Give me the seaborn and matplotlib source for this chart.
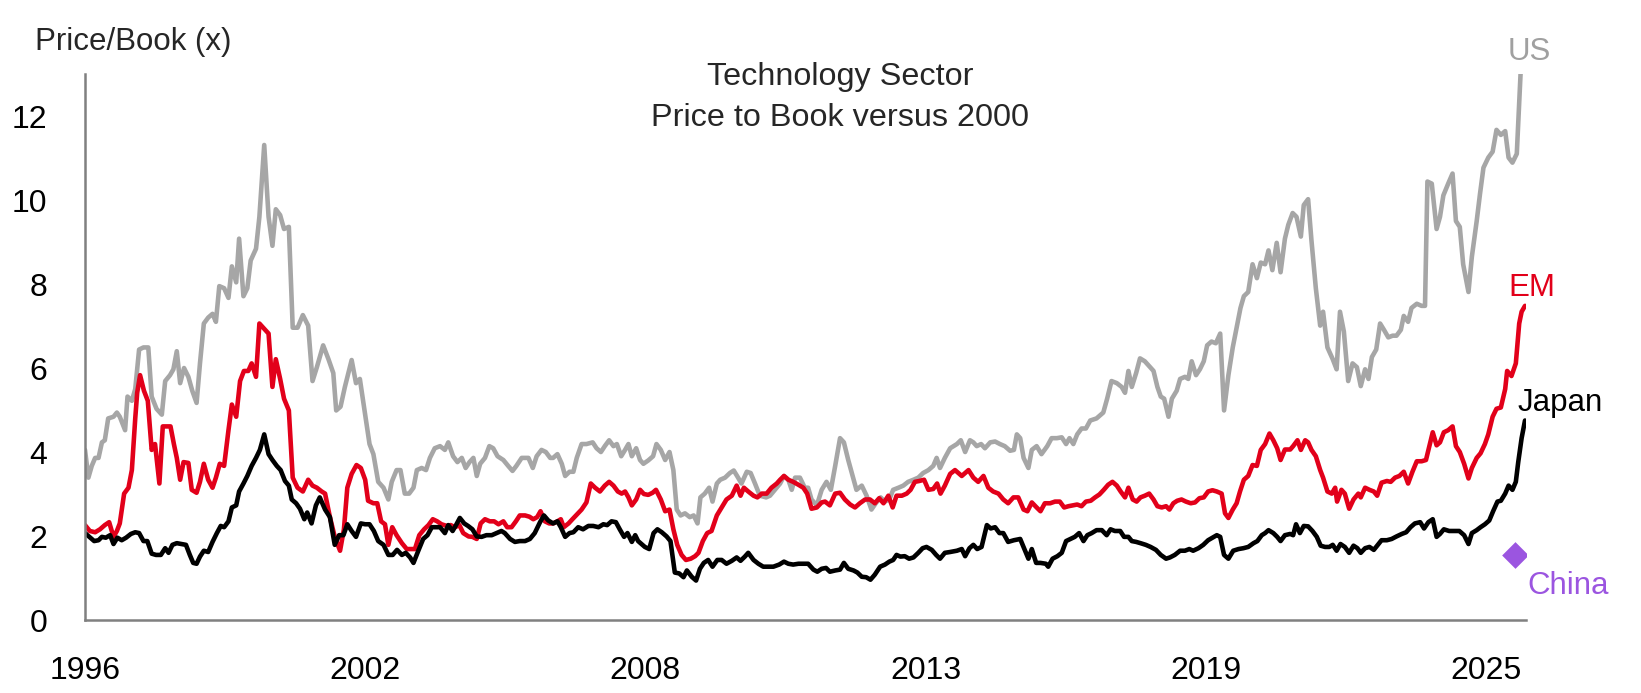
import matplotlib
matplotlib.use("Agg")
import matplotlib.pyplot as plt
import pandas as pd
import seaborn as sns

# (year, price/book)
us_pb = [
    (1996.00, 4.05), (1996.07, 3.39), (1996.14, 3.67), (1996.21, 3.86), (1996.28, 3.86), (1996.35, 4.23),
    (1996.41, 4.28), (1996.48, 4.80), (1996.59, 4.84), (1996.66, 4.94), (1996.72, 4.84), (1996.83, 4.52),
    (1996.88, 5.32), (1996.97, 5.22), (1997.04, 5.50), (1997.12, 6.44), (1997.21, 6.49), (1997.31, 6.49),
    (1997.38, 5.32), (1997.48, 5.03), (1997.59, 4.89), (1997.66, 5.69), (1997.76, 5.83), (1997.83, 5.97),
    (1997.90, 6.40), (1997.97, 5.64), (1998.05, 6.00), (1998.14, 5.79), (1998.22, 5.46), (1998.31, 5.17),
    (1998.38, 6.11), (1998.46, 7.06), (1998.55, 7.20), (1998.64, 7.29), (1998.71, 7.10), (1998.78, 7.95),
    (1998.88, 7.90), (1998.97, 7.67), (1999.04, 8.42), (1999.13, 8.04), (1999.19, 9.08), (1999.28, 7.71),
    (1999.36, 7.90), (1999.43, 8.56), (1999.54, 8.84), (1999.61, 9.60), (1999.71, 11.31), (1999.80, 9.60),
    (1999.88, 8.91), (1999.95, 9.78), (2000.04, 9.64), (2000.12, 9.31), (2000.22, 9.36), (2000.30, 6.96),
    (2000.40, 6.96), (2000.51, 7.26), (2000.62, 7.01), (2000.71, 5.69), (2000.80, 6.02),
    (2000.93, 6.54), (2001.04, 6.21), (2001.14, 5.88), (2001.20, 4.99), (2001.29, 5.08), (2001.38, 5.55),
    (2001.52, 6.19), (2001.61, 5.64), (2001.69, 5.74), (2001.80, 4.89), (2001.89, 4.19), (2001.97, 3.95),
    (2002.07, 3.29), (2002.18, 3.15), (2002.28, 2.87), (2002.35, 3.29), (2002.45, 3.57), (2002.53, 3.57),
    (2002.62, 3.01), (2002.71, 3.01), (2002.80, 3.15), (2002.87, 3.57), (2002.97, 3.62), (2003.06, 3.57),
    (2003.14, 3.86), (2003.24, 4.09), (2003.35, 4.14), (2003.45, 4.05), (2003.52, 4.23), (2003.62, 3.90),
    (2003.71, 3.76), (2003.80, 3.86), (2003.88, 3.62), (2003.96, 3.76), (2004.04, 3.86), (2004.11, 3.43),
    (2004.18, 3.72), (2004.28, 3.86), (2004.37, 4.14), (2004.45, 4.09), (2004.54, 3.90), (2004.66, 3.81),
    (2004.76, 3.67), (2004.85, 3.55), (2004.93, 3.67), (2005.04, 3.86), (2005.18, 3.86), (2005.27, 3.62),
    (2005.35, 3.90), (2005.45, 4.05), (2005.54, 4.00), (2005.63, 3.86), (2005.69, 3.86), (2005.78, 3.95),
    (2005.87, 3.72), (2005.94, 3.43), (2006.03, 3.53), (2006.11, 3.53), (2006.18, 3.86), (2006.28, 4.19),
    (2006.38, 4.19), (2006.51, 4.23), (2006.59, 4.09), (2006.68, 4.00), (2006.76, 4.14), (2006.85, 4.28),
    (2006.94, 4.14), (2007.01, 4.19), (2007.10, 3.90), (2007.18, 4.05), (2007.25, 4.19), (2007.32, 3.90),
    (2007.41, 4.09), (2007.49, 3.81),
    (2007.56, 3.72), (2007.66, 3.80), (2007.76, 3.90), (2007.83, 4.19), (2007.92, 4.05), (2008.01, 3.81),
    (2008.10, 4.00), (2008.18, 3.57), (2008.25, 2.63), (2008.33, 2.49), (2008.42, 2.54), (2008.52, 2.45),
    (2008.60, 2.49), (2008.68, 2.30), (2008.74, 2.92), (2008.83, 3.01), (2008.92, 3.15), (2008.99, 2.82),
    (2009.08, 3.25), (2009.15, 3.34), (2009.25, 3.39), (2009.35, 3.50), (2009.43, 3.56), (2009.52, 3.39),
    (2009.59, 3.25), (2009.70, 3.53), (2009.78, 3.50), (2009.87, 3.25), (2009.97, 2.96), (2010.10, 2.92),
    (2010.18, 2.96), (2010.28, 3.10), (2010.39, 3.25), (2010.47, 3.43), (2010.56, 3.34), (2010.63, 3.10),
    (2010.70, 3.39), (2010.80, 3.39), (2010.90, 3.15), (2010.97, 3.15), (2011.04, 2.87), (2011.15, 2.73),
    (2011.25, 3.10), (2011.35, 3.29), (2011.44, 3.10), (2011.53, 3.67), (2011.63, 4.33), (2011.71, 4.23),
    (2011.80, 3.81), (2011.90, 3.39), (2011.97, 3.10), (2012.08, 3.20), (2012.18, 2.96), (2012.28, 2.63),
    (2012.37, 2.78), (2012.47, 2.92), (2012.56, 2.82), (2012.65, 2.87), (2012.73, 3.10), (2012.84, 3.15),
    (2012.94, 3.20), (2013.04, 3.29), (2013.15, 3.34), (2013.25, 3.39), (2013.35, 3.50), (2013.46, 3.57),
    (2013.56, 3.67), (2013.63, 3.86), (2013.70, 3.62), (2013.80, 3.86), (2013.91, 4.09),
    (2014.05, 4.19), (2014.13, 4.28), (2014.22, 4.00), (2014.32, 4.28), (2014.39, 4.23), (2014.46, 4.14),
    (2014.55, 4.19), (2014.63, 4.09), (2014.74, 4.23), (2014.84, 4.25), (2014.94, 4.19), (2015.04, 4.14),
    (2015.15, 4.03), (2015.23, 4.05), (2015.29, 4.42), (2015.36, 4.33), (2015.43, 3.86), (2015.53, 3.62),
    (2015.60, 4.05), (2015.70, 4.14), (2015.80, 3.95), (2015.92, 4.14), (2016.01, 4.33), (2016.12, 4.33),
    (2016.22, 4.35), (2016.31, 4.19), (2016.38, 4.33), (2016.46, 4.19), (2016.54, 4.42), (2016.63, 4.56),
    (2016.72, 4.56), (2016.81, 4.75), (2016.94, 4.80), (2017.08, 4.94), (2017.16, 5.27), (2017.25, 5.69),
    (2017.36, 5.64), (2017.46, 5.55), (2017.53, 5.41), (2017.60, 5.93), (2017.67, 5.55), (2017.76, 5.88),
    (2017.84, 6.23), (2017.94, 6.16), (2018.01, 6.07), (2018.12, 5.93), (2018.20, 5.55), (2018.27, 5.32),
    (2018.34, 5.27), (2018.43, 4.84), (2018.50, 5.27), (2018.60, 5.46), (2018.67, 5.74), (2018.77, 5.79),
    (2018.84, 5.74), (2018.91, 6.16), (2019.00, 5.83), (2019.08, 5.97), (2019.16, 6.16), (2019.23, 6.54),
    (2019.32, 6.63), (2019.41, 6.59), (2019.50, 6.82), (2019.58, 4.99), (2019.67, 5.83), (2019.76, 6.49),
    (2019.84, 6.96), (2019.92, 7.43), (2019.99, 7.71), (2020.08, 7.81), (2020.17, 8.47), (2020.26, 8.14),
    (2020.34, 8.51), (2020.43, 8.47),
    (2020.50, 8.80), (2020.58, 8.33), (2020.67, 8.98), (2020.75, 8.28), (2020.84, 9.08), (2020.91, 9.41),
    (2021.00, 9.69), (2021.08, 9.60), (2021.17, 9.13), (2021.23, 9.88), (2021.32, 10.02), (2021.39, 9.03),
    (2021.48, 7.90), (2021.57, 7.01), (2021.63, 7.34), (2021.72, 6.49), (2021.83, 6.21), (2021.91, 5.97),
    (2021.98, 7.34), (2022.06, 6.87), (2022.15, 5.69), (2022.24, 6.11), (2022.33, 6.02), (2022.41, 5.57),
    (2022.50, 5.97), (2022.57, 5.74), (2022.64, 6.26), (2022.73, 6.44), (2022.81, 7.06), (2022.89, 6.91),
    (2022.98, 6.73), (2023.07, 6.77), (2023.15, 6.77), (2023.24, 6.91), (2023.30, 7.24), (2023.39, 7.10),
    (2023.46, 7.43), (2023.57, 7.53), (2023.67, 7.48), (2023.74, 7.48), (2023.79, 10.44), (2023.88, 10.39),
    (2023.98, 9.31), (2024.05, 9.60), (2024.12, 10.11), (2024.22, 10.39), (2024.31, 10.63), (2024.38, 9.50),
    (2024.46, 9.36), (2024.53, 8.47), (2024.64, 7.81), (2024.71, 8.65), (2024.81, 9.50), (2024.88, 10.16),
    (2024.95, 10.77), (2025.05, 11.01), (2025.14, 11.15), (2025.22, 11.67), (2025.31, 11.55), (2025.40, 11.64),
    (2025.47, 11.01), (2025.55, 10.89), (2025.64, 11.10), (2025.72, 13.05),
]

em_pb = [
    (1996.00, 2.26), (1996.10, 2.12), (1996.21, 2.09), (1996.31, 2.16), (1996.41, 2.26), (1996.50, 2.33),
    (1996.59, 1.98), (1996.66, 2.12), (1996.72, 2.30), (1996.81, 3.01), (1996.90, 3.15), (1996.97, 3.57),
    (1997.04, 4.80), (1997.08, 5.41), (1997.14, 5.83), (1997.22, 5.46), (1997.30, 5.22), (1997.38, 4.05),
    (1997.45, 4.19), (1997.54, 3.25), (1997.61, 4.61), (1997.69, 4.61), (1997.77, 4.61), (1997.84, 4.19),
    (1997.90, 3.86), (1997.97, 3.34), (1998.04, 3.76), (1998.14, 3.74), (1998.21, 3.10), (1998.31, 3.03),
    (1998.38, 3.29), (1998.46, 3.72), (1998.55, 3.34), (1998.64, 3.15), (1998.71, 3.39), (1998.79, 3.72),
    (1998.88, 3.67), (1998.97, 4.52), (1999.04, 5.13), (1999.13, 4.84), (1999.21, 5.69), (1999.29, 5.93),
    (1999.38, 5.93), (1999.45, 6.11), (1999.54, 5.79), (1999.61, 7.06), (1999.69, 6.96), (1999.80, 6.82),
    (1999.88, 5.55), (1999.95, 6.21), (2000.04, 5.74), (2000.12, 5.27), (2000.22, 4.99), (2000.30, 3.39),
    (2000.40, 3.15), (2000.51, 3.06), (2000.62, 3.34), (2000.71, 3.20), (2000.80, 3.15), (2000.90, 3.06),
    (2000.97, 3.01), (2001.07, 2.45), (2001.17, 1.98), (2001.28, 1.65), (2001.36, 2.16), (2001.43, 3.15),
    (2001.52, 3.48), (2001.62, 3.69), (2001.71, 3.62), (2001.80, 3.34), (2001.86, 2.84), (2001.97, 2.78),
    (2002.05, 2.78), (2002.13, 2.35), (2002.21, 2.28), (2002.28, 1.79), (2002.36, 2.21), (2002.45, 2.02),
    (2002.56, 1.83), (2002.66, 1.69), (2002.76, 1.69), (2002.83, 1.69), (2002.92, 2.02), (2003.02, 2.16),
    (2003.11, 2.26), (2003.20, 2.40), (2003.29, 2.35), (2003.38, 2.28), (2003.49, 2.24), (2003.57, 2.26),
    (2003.66, 2.21), (2003.75, 2.26), (2003.83, 2.07), (2003.94, 1.99), (2004.02, 1.98), (2004.11, 1.93),
    (2004.19, 2.30), (2004.28, 2.40), (2004.38, 2.35), (2004.47, 2.35), (2004.56, 2.28), (2004.66, 2.35),
    (2004.74, 2.21), (2004.83, 2.21), (2004.92, 2.35), (2005.00, 2.49), (2005.11, 2.49), (2005.20, 2.46),
    (2005.28, 2.40), (2005.36, 2.45), (2005.43, 2.59), (2005.52, 2.35), (2005.61, 2.30), (2005.69, 2.30),
    (2005.78, 2.35), (2005.85, 2.40), (2005.91, 2.21), (2006.01, 2.30), (2006.09, 2.40), (2006.19, 2.52),
    (2006.28, 2.63), (2006.38, 2.80), (2006.47, 3.25), (2006.56, 3.15), (2006.66, 3.06), (2006.76, 3.20),
    (2006.85, 3.29), (2006.94, 3.20), (2007.03, 3.06), (2007.11, 3.01), (2007.18, 3.06), (2007.25, 2.92),
    (2007.32, 2.73), (2007.41, 2.87), (2007.49, 3.10),
    (2007.57, 3.00), (2007.66, 2.98), (2007.75, 3.03), (2007.82, 3.10), (2007.92, 2.87), (2008.01, 2.59),
    (2008.10, 2.63), (2008.18, 2.16), (2008.26, 1.79), (2008.35, 1.55), (2008.44, 1.43), (2008.54, 1.46),
    (2008.63, 1.52), (2008.70, 1.60), (2008.79, 1.88), (2008.88, 2.07), (2008.97, 2.12), (2009.08, 2.49),
    (2009.18, 2.68), (2009.28, 2.87), (2009.39, 2.96), (2009.49, 3.20), (2009.57, 2.96), (2009.64, 3.15),
    (2009.73, 3.06), (2009.84, 2.96), (2009.92, 2.92), (2010.01, 3.01), (2010.11, 3.01), (2010.21, 3.15),
    (2010.32, 3.25), (2010.39, 3.34), (2010.47, 3.43), (2010.56, 3.34), (2010.66, 3.29), (2010.77, 3.22),
    (2010.87, 3.15), (2010.95, 3.01), (2011.04, 2.65), (2011.15, 2.68), (2011.25, 2.80), (2011.32, 2.82),
    (2011.42, 2.73), (2011.53, 3.01), (2011.63, 3.03), (2011.73, 2.87), (2011.84, 2.75), (2011.94, 2.68),
    (2012.04, 2.78), (2012.15, 2.87), (2012.25, 2.87), (2012.35, 2.78), (2012.44, 2.90), (2012.53, 2.78),
    (2012.63, 2.96), (2012.72, 2.68), (2012.80, 2.96), (2012.91, 2.96), (2013.01, 3.01), (2013.09, 3.10),
    (2013.18, 3.29), (2013.27, 3.31), (2013.37, 3.34), (2013.46, 3.10), (2013.56, 3.12), (2013.64, 3.25),
    (2013.71, 3.01), (2013.80, 3.20), (2013.91, 3.48),
    (2014.01, 3.57), (2014.15, 3.43), (2014.29, 3.57), (2014.39, 3.39), (2014.49, 3.29), (2014.60, 3.43),
    (2014.70, 3.15), (2014.80, 3.06), (2014.91, 3.01), (2015.01, 2.87), (2015.11, 2.78), (2015.22, 2.92),
    (2015.32, 2.92), (2015.43, 2.63), (2015.51, 2.59), (2015.60, 2.80), (2015.70, 2.68), (2015.78, 2.59),
    (2015.87, 2.78), (2015.98, 2.78), (2016.08, 2.82), (2016.18, 2.82), (2016.27, 2.68), (2016.36, 2.71),
    (2016.45, 2.73), (2016.54, 2.75), (2016.63, 2.71), (2016.72, 2.82), (2016.82, 2.84), (2016.91, 2.92),
    (2017.00, 2.99), (2017.09, 3.10), (2017.18, 3.22), (2017.27, 3.29), (2017.36, 3.20), (2017.44, 3.06),
    (2017.53, 2.92), (2017.60, 3.15), (2017.69, 2.87), (2017.77, 2.82), (2017.85, 2.92), (2017.94, 2.96),
    (2018.03, 3.01), (2018.12, 2.87), (2018.20, 2.71), (2018.29, 2.68), (2018.38, 2.71), (2018.45, 2.63),
    (2018.53, 2.78), (2018.61, 2.84), (2018.70, 2.87), (2018.79, 2.82), (2018.89, 2.78), (2018.98, 2.80),
    (2019.07, 2.90), (2019.16, 2.92), (2019.25, 3.06), (2019.34, 3.09), (2019.43, 3.06), (2019.53, 3.01),
    (2019.60, 2.54), (2019.67, 2.43), (2019.76, 2.63), (2019.84, 2.78), (2019.91, 3.06), (2019.99, 3.34),
    (2020.08, 3.43), (2020.17, 3.69), (2020.26, 3.67), (2020.34, 4.05), (2020.43, 4.19),
    (2020.52, 4.44), (2020.60, 4.28), (2020.68, 4.09), (2020.75, 3.81), (2020.84, 4.06), (2020.95, 4.06),
    (2021.01, 4.14), (2021.10, 4.28), (2021.17, 4.05), (2021.26, 4.28), (2021.32, 4.23), (2021.39, 4.05),
    (2021.48, 3.90), (2021.57, 3.57), (2021.63, 3.39), (2021.72, 3.06), (2021.81, 3.01), (2021.88, 3.15),
    (2021.92, 2.82), (2022.01, 3.10), (2022.08, 3.01), (2022.17, 2.65), (2022.26, 2.87), (2022.36, 3.01),
    (2022.41, 2.92), (2022.50, 3.15), (2022.59, 3.10), (2022.68, 3.06), (2022.75, 2.96), (2022.84, 3.27),
    (2022.95, 3.31), (2023.03, 3.29), (2023.12, 3.39), (2023.21, 3.43), (2023.30, 3.53), (2023.39, 3.25),
    (2023.48, 3.53), (2023.57, 3.78), (2023.67, 3.78), (2023.76, 3.81), (2023.83, 4.14), (2023.90, 4.47),
    (2023.98, 4.16), (2024.05, 4.23), (2024.13, 4.47), (2024.22, 4.52), (2024.31, 4.61), (2024.38, 4.14),
    (2024.46, 4.00), (2024.55, 3.72), (2024.64, 3.37), (2024.71, 3.62), (2024.81, 3.86), (2024.89, 3.97),
    (2024.98, 4.19), (2025.05, 4.42), (2025.14, 4.84), (2025.22, 5.03), (2025.31, 5.06), (2025.40, 5.50),
    (2025.44, 5.93), (2025.53, 5.81), (2025.62, 6.11), (2025.69, 7.06), (2025.74, 7.34), (2025.81, 7.48),
]

japan_pb = [
    (1996.00, 2.07), (1996.09, 1.98), (1996.19, 1.88), (1996.28, 1.90), (1996.35, 1.98), (1996.43, 1.96),
    (1996.52, 2.02), (1996.59, 1.81), (1996.67, 1.96), (1996.76, 1.90), (1996.85, 1.96), (1996.95, 2.05),
    (1997.04, 2.09), (1997.12, 2.07), (1997.21, 1.88), (1997.29, 1.88), (1997.38, 1.58), (1997.47, 1.55),
    (1997.57, 1.55), (1997.66, 1.71), (1997.73, 1.60), (1997.81, 1.79), (1997.90, 1.83), (1998.00, 1.81),
    (1998.09, 1.79), (1998.17, 1.55), (1998.24, 1.36), (1998.31, 1.34), (1998.38, 1.51), (1998.46, 1.65),
    (1998.55, 1.62), (1998.64, 1.86), (1998.73, 2.07), (1998.81, 2.24), (1998.88, 2.21), (1998.97, 2.35),
    (1999.04, 2.68), (1999.13, 2.73), (1999.19, 3.06), (1999.28, 3.25), (1999.36, 3.43), (1999.45, 3.67),
    (1999.54, 3.86), (1999.62, 4.05), (1999.71, 4.42), (1999.80, 3.95), (1999.88, 3.81), (1999.97, 3.67),
    (2000.05, 3.57), (2000.14, 3.31), (2000.22, 3.20), (2000.28, 2.87), (2000.37, 2.78), (2000.45, 2.65),
    (2000.54, 2.40), (2000.60, 2.56), (2000.69, 2.30), (2000.78, 2.73), (2000.86, 2.92),
    (2000.97, 2.63), (2001.07, 2.45), (2001.17, 1.79), (2001.26, 2.02), (2001.35, 2.02), (2001.43, 2.28),
    (2001.52, 2.12), (2001.61, 1.98), (2001.71, 2.30), (2001.80, 2.28), (2001.89, 2.28), (2001.98, 2.12),
    (2002.07, 1.88), (2002.18, 1.79), (2002.28, 1.55), (2002.37, 1.55), (2002.46, 1.67), (2002.56, 1.55),
    (2002.64, 1.60), (2002.73, 1.49), (2002.80, 1.36), (2002.90, 1.65), (2003.00, 1.93), (2003.09, 2.02),
    (2003.18, 2.21), (2003.26, 2.21), (2003.35, 2.21), (2003.45, 2.07), (2003.52, 2.26), (2003.61, 2.12),
    (2003.69, 2.28), (2003.76, 2.43), (2003.85, 2.30), (2003.93, 2.24), (2004.02, 2.16), (2004.11, 1.99),
    (2004.21, 1.98), (2004.31, 2.02), (2004.42, 2.02), (2004.52, 2.07), (2004.62, 2.12), (2004.69, 2.07),
    (2004.80, 1.93), (2004.90, 1.86), (2005.00, 1.88), (2005.11, 1.88), (2005.21, 1.93), (2005.31, 2.07),
    (2005.42, 2.33), (2005.50, 2.49), (2005.59, 2.37), (2005.69, 2.30), (2005.78, 2.35), (2005.85, 2.21),
    (2005.94, 1.98), (2006.03, 2.07), (2006.11, 2.09), (2006.21, 2.21), (2006.31, 2.16), (2006.42, 2.24),
    (2006.52, 2.24), (2006.63, 2.21), (2006.73, 2.28), (2006.81, 2.26), (2006.90, 2.35), (2006.99, 2.33),
    (2007.07, 2.16), (2007.16, 1.98), (2007.23, 2.07), (2007.32, 1.86), (2007.39, 2.02), (2007.45, 1.88),
    (2007.50, 1.83), (2007.59, 1.74), (2007.68, 1.69), (2007.77, 2.07), (2007.85, 2.16), (2007.94, 2.09),
    (2008.04, 1.99), (2008.12, 1.88), (2008.21, 1.13), (2008.30, 1.11), (2008.39, 1.02), (2008.46, 1.18),
    (2008.56, 1.03), (2008.65, 0.94), (2008.73, 1.22), (2008.81, 1.36), (2008.90, 1.43), (2008.99, 1.27),
    (2009.09, 1.43), (2009.18, 1.43), (2009.28, 1.34), (2009.39, 1.41), (2009.49, 1.49), (2009.57, 1.41),
    (2009.66, 1.51), (2009.73, 1.60), (2009.84, 1.43), (2009.94, 1.34), (2010.04, 1.27), (2010.15, 1.27),
    (2010.25, 1.27), (2010.37, 1.32), (2010.47, 1.39), (2010.56, 1.34), (2010.66, 1.32), (2010.77, 1.34),
    (2010.87, 1.34), (2010.97, 1.34), (2011.08, 1.20), (2011.16, 1.15), (2011.25, 1.22), (2011.34, 1.24),
    (2011.42, 1.15), (2011.53, 1.18), (2011.63, 1.20), (2011.71, 1.36), (2011.80, 1.22), (2011.91, 1.18),
    (2011.99, 1.13), (2012.08, 1.03), (2012.17, 1.02), (2012.26, 0.96), (2012.35, 1.08), (2012.46, 1.27),
    (2012.56, 1.32), (2012.65, 1.39), (2012.73, 1.43), (2012.80, 1.55), (2012.88, 1.51), (2012.97, 1.52),
    (2013.06, 1.46), (2013.15, 1.49), (2013.25, 1.60), (2013.34, 1.71), (2013.42, 1.74), (2013.53, 1.67),
    (2013.62, 1.55), (2013.70, 1.46), (2013.80, 1.60), (2013.91, 1.62),
    (2014.05, 1.65), (2014.15, 1.69), (2014.22, 1.52), (2014.31, 1.71), (2014.39, 1.79), (2014.47, 1.69),
    (2014.56, 1.74), (2014.67, 2.26), (2014.75, 2.18), (2014.84, 2.21), (2014.93, 2.07), (2015.01, 2.07),
    (2015.11, 1.86), (2015.23, 1.90), (2015.36, 1.93), (2015.46, 1.65), (2015.53, 1.46), (2015.60, 1.69),
    (2015.69, 1.36), (2015.78, 1.36), (2015.89, 1.34), (2015.94, 1.27), (2016.03, 1.46), (2016.13, 1.52),
    (2016.22, 1.60), (2016.31, 1.88), (2016.40, 1.93), (2016.49, 1.98), (2016.58, 2.07), (2016.67, 1.88),
    (2016.75, 2.02), (2016.84, 2.07), (2016.94, 2.14), (2017.05, 2.14), (2017.15, 2.02), (2017.23, 2.16),
    (2017.32, 2.12), (2017.43, 2.12), (2017.51, 1.98), (2017.60, 1.98), (2017.67, 1.88), (2017.76, 1.86),
    (2017.85, 1.83), (2017.96, 1.79), (2018.06, 1.74), (2018.17, 1.67), (2018.27, 1.55), (2018.38, 1.46),
    (2018.46, 1.49), (2018.56, 1.55), (2018.67, 1.65), (2018.77, 1.65), (2018.86, 1.69), (2018.94, 1.65),
    (2019.05, 1.71), (2019.15, 1.79), (2019.25, 1.90), (2019.34, 1.96), (2019.43, 2.02), (2019.50, 1.98),
    (2019.58, 1.55), (2019.67, 1.46), (2019.77, 1.65), (2019.88, 1.69), (2019.98, 1.71), (2020.08, 1.74),
    (2020.19, 1.83), (2020.27, 1.88), (2020.36, 2.02), (2020.43, 2.07),
    (2020.50, 2.14), (2020.60, 2.07), (2020.68, 1.98), (2020.75, 1.88), (2020.84, 2.02), (2020.95, 2.05),
    (2021.01, 2.02), (2021.07, 2.28), (2021.15, 2.07), (2021.23, 2.24), (2021.32, 2.23), (2021.41, 2.12),
    (2021.50, 1.98), (2021.58, 1.77), (2021.67, 1.74), (2021.76, 1.74), (2021.83, 1.79), (2021.91, 1.65),
    (2021.99, 1.81), (2022.08, 1.74), (2022.17, 1.60), (2022.26, 1.77), (2022.34, 1.71), (2022.41, 1.60),
    (2022.50, 1.71), (2022.59, 1.74), (2022.68, 1.67), (2022.75, 1.77), (2022.84, 1.90), (2022.95, 1.90),
    (2023.05, 1.93), (2023.15, 1.99), (2023.26, 2.05), (2023.35, 2.09), (2023.44, 2.21), (2023.53, 2.30),
    (2023.64, 2.33), (2023.72, 2.18), (2023.81, 2.33), (2023.90, 2.40), (2023.98, 1.98), (2024.05, 2.05),
    (2024.13, 2.16), (2024.24, 2.12), (2024.34, 2.12), (2024.45, 2.12), (2024.55, 2.02), (2024.64, 1.81),
    (2024.71, 2.07), (2024.81, 2.14), (2024.89, 2.21), (2024.98, 2.28), (2025.07, 2.37), (2025.15, 2.59),
    (2025.24, 2.82), (2025.31, 2.84), (2025.40, 3.01), (2025.47, 3.20), (2025.55, 3.10), (2025.62, 3.29),
    (2025.67, 3.76), (2025.74, 4.33), (2025.81, 4.75),
]

china_year = [2025.60]
china_pb = [1.55]

tick_years = [1996.0, 2001.8, 2007.6, 2013.4, 2019.2, 2025.0]
tick_labels = ["1996", "2002", "2008", "2013", "2019", "2025"]
y_ticks = [0, 2, 4, 6, 8, 10, 12]

regions = ["US", "EM", "Japan"]
palette = {"US": "#a6a6a6", "EM": "#e2001a", "Japan": "#000000"}
china_color = "#9b55e0"

frames = []
for name, pts in zip(regions, [us_pb, em_pb, japan_pb]):
    part = pd.DataFrame(pts, columns=["year", "pb"])
    part["region"] = name
    frames.append(part)
df = pd.concat(frames, ignore_index=True)

sns.set_style("white")
plt.rcParams["font.family"] = ["Liberation Sans", "DejaVu Sans"]

fig = plt.figure(figsize=(16.41, 6.93), dpi=100)
ax = fig.add_axes([0.0518, 0.1053, 0.8781, 0.7879])

sns.lineplot(data=df, x="year", y="pb", hue="region", hue_order=regions,
             palette=palette, linewidth=3.3, estimator=None, legend=False, ax=ax)
sns.scatterplot(x=china_year, y=china_pb, marker="D", s=185, color=china_color,
                linewidth=0, zorder=5, ax=ax)

ax.set_xlim(1996.0, 2025.83)
ax.set_ylim(0, 13)
ax.set_xticks(tick_years)
ax.set_xticklabels(tick_labels)
ax.set_yticks(y_ticks)
ax.set_xlabel("")
ax.set_ylabel("")
ax.tick_params(axis="both", length=0, labelsize=23, colors="black")
ax.tick_params(axis="x", pad=26)
ax.tick_params(axis="y", pad=27)
for side in ["top", "right"]:
    ax.spines[side].set_visible(False)
for side in ["left", "bottom"]:
    ax.spines[side].set_color("#808080")
    ax.spines[side].set_linewidth(1.8)
ax.grid(False)

fs = 22.5
title_fs = 23.3
fig.text(0.0213, 0.928, "Price/Book (x)", fontsize=fs, ha="left", va="baseline")
fig.text(0.512, 0.877, "Technology Sector", fontsize=title_fs, ha="center", va="baseline")
fig.text(0.512, 0.818, "Price to Book versus 2000", fontsize=title_fs, ha="center", va="baseline")

fig.text(0.919, 0.914, "US", fontsize=fs, color="#a0a0a0", ha="left", va="baseline")
fig.text(0.919, 0.573, "EM", fontsize=fs, color=palette["EM"], ha="left", va="baseline")
fig.text(0.925, 0.407, "Japan", fontsize=fs, color="black", ha="left", va="baseline")
fig.text(0.9305, 0.143, "China", fontsize=fs, color=china_color, ha="left", va="baseline")

fig.savefig("out.png", dpi=100)
